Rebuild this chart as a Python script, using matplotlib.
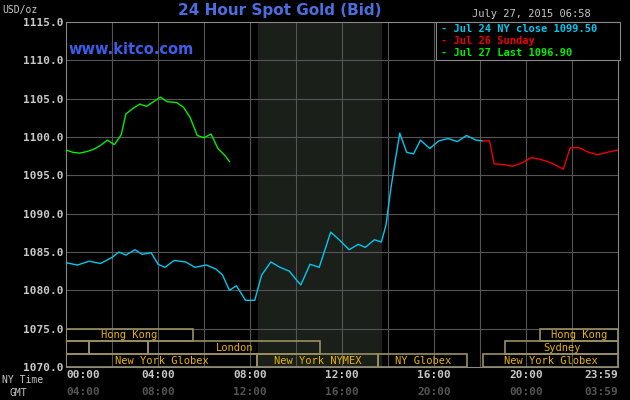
import numpy as np
import matplotlib.pyplot as plt
from matplotlib.patches import Rectangle

# Data (hours NY time, price USD/oz)
blue_t = [0.0, 0.5, 1.0, 1.5, 2.0, 2.3, 2.6, 3.0, 3.3, 3.7, 4.0, 4.3, 4.7, 5.2, 5.6, 6.1, 6.5, 6.8, 7.1,
          7.4, 7.8, 8.2, 8.5, 8.9, 9.3, 9.7, 10.0, 10.2, 10.6, 11.0, 11.5, 11.9, 12.3, 12.7, 13.0, 13.4,
          13.7, 13.9, 14.1, 14.25, 14.5, 14.8, 15.1, 15.4, 15.8, 16.2, 16.6, 17.0, 17.4, 17.8, 18.1]
blue_v = [1083.6, 1083.3, 1083.8, 1083.5, 1084.3, 1085.0, 1084.6, 1085.3, 1084.7, 1084.9, 1083.4, 1083.0,
          1083.9, 1083.7, 1083.0, 1083.3, 1082.8, 1082.0, 1080.0, 1080.6, 1078.7, 1078.7, 1082.0, 1083.7,
          1083.0, 1082.5, 1081.4, 1080.7, 1083.4, 1083.0, 1087.6, 1086.5, 1085.3, 1086.0, 1085.6, 1086.6,
          1086.3, 1088.5, 1093.0, 1096.0, 1100.5, 1098.0, 1097.8, 1099.6, 1098.5, 1099.5, 1099.8, 1099.4,
          1100.2, 1099.6, 1099.5]

green_t = [0.0, 0.3, 0.6, 0.9, 1.2, 1.5, 1.8, 2.1, 2.4, 2.6, 2.9, 3.2, 3.5, 3.8, 4.1, 4.4, 4.8, 5.1, 5.4,
           5.7, 6.0, 6.3, 6.6, 6.9, 7.1]
green_v = [1098.3, 1098.0, 1097.9, 1098.1, 1098.4, 1098.9, 1099.6, 1099.0, 1100.3, 1103.0, 1103.7, 1104.3,
           1104.0, 1104.6, 1105.2, 1104.6, 1104.5, 1103.9, 1102.5, 1100.2, 1099.9, 1100.4, 1098.5, 1097.6, 1096.8]

red_t = [18.1, 18.4, 18.6, 19.0, 19.4, 19.8, 20.2, 20.6, 21.0, 21.3, 21.6, 21.9, 22.3, 22.7, 23.1, 23.5, 23.98]
red_v = [1099.5, 1099.5, 1096.5, 1096.4, 1096.2, 1096.6, 1097.3, 1097.1, 1096.7, 1096.3, 1095.8, 1098.6,
         1098.6, 1098.0, 1097.7, 1098.0, 1098.3]

ny_ticks = ['00:00', '04:00', '08:00', '12:00', '16:00', '20:00', '23:59']
gmt_ticks = ['04:00', '08:00', '12:00', '16:00', '20:00', '00:00', '03:59']
tick_pos = [0, 4, 8, 12, 16, 20, 23.98]

# sessions: (row, start, end, label)
sessions = [(2, 0, 5.52, 'Hong Kong'), (2, 20.6, 23.98, 'Hong Kong'),
            (1, 0, 1.0, ''), (1, 1.0, 3.57, ''), (1, 3.57, 11.04, 'London'), (1, 19.09, 23.98, 'Sydney'),
            (0, 0, 8.3, 'New York Globex'), (0, 8.3, 13.57, 'New York NYMEX'),
            (0, 13.57, 17.43, 'NY Globex'), (0, 18.13, 23.98, 'New York Globex')]

mono = 'DejaVu Sans Mono'
gold = '#e8b400'
grid_c = '#555555'

fig = plt.figure(figsize=(6.3, 4.0), dpi=100, facecolor='black')
ax = fig.add_axes([66 / 630, 1 - 367 / 400, 552 / 630, 345 / 400], facecolor='black')
ax.set_xlim(0, 23.98)
ax.set_ylim(1070, 1115)

ax.axvspan(8.35, 13.7, color='#1a1f1a', zorder=0)
for h in range(2, 24, 2):
    ax.axvline(h, color=grid_c, lw=0.8, zorder=1)
for p in np.arange(1075, 1115, 5):
    ax.axhline(p, color=grid_c, lw=0.8, zorder=1)

row_h = 5.0 / 3
for row, s, e, lab in sessions:
    y0 = 1070 + row * row_h
    ax.add_patch(Rectangle((s, y0), e - s, row_h, fill=False, ec='#9a9060', lw=1.2, zorder=3))
    if lab:
        ax.text((s + e) / 2, y0 + row_h / 2, lab, color=gold, fontsize=7.5, family=mono,
                ha='center', va='center', zorder=4)

ax.plot(green_t, green_v, color='#00ee00', lw=1.0, zorder=5)
ax.plot(blue_t, blue_v, color='#00c8f0', lw=1.0, zorder=5)
ax.plot(red_t, red_v, color='#ee0000', lw=1.0, zorder=5)

ax.set_yticks(np.arange(1070, 1116, 5))
ax.set_yticklabels(['%.1f' % v for v in np.arange(1070, 1116, 5)], family=mono, fontweight='bold',
                   fontsize=8, color='#c8c8c8')
ax.set_xticks(tick_pos)
ax.set_xticklabels(ny_ticks, family=mono, fontweight='bold', fontsize=8, color='#c8c8c8')
ax.tick_params(length=0, pad=2)
labs = ax.get_xticklabels()
labs[0].set_ha('left')
labs[-1].set_ha('right')
for sp in ax.spines.values():
    sp.set_color('#888888')

for i, (x, lab) in enumerate(zip(tick_pos, gmt_ticks)):
    ha = 'left' if i == 0 else ('right' if i == len(tick_pos) - 1 else 'center')
    ax.text(x, -0.058, lab, transform=ax.get_xaxis_transform(), ha=ha, va='top',
            family=mono, fontweight='bold', fontsize=8, color='#555555')
fig.text(2 / 630, 1 - 380 / 400, 'NY Time', color='#c8c8c8', family=mono, fontsize=7, va='center')
fig.text(10 / 630, 1 - 393 / 400, 'GMT', color='#c8c8c8', family=mono, fontsize=7, va='center')
fig.text(2 / 630, 1 - 10 / 400, 'USD/oz', color='#c8c8c8', family=mono, fontsize=7, va='center')

fig.text(280 / 630, 1 - 11 / 400, '24 Hour Spot Gold (Bid)', color='#4a6ee0', fontsize=11,
         fontweight='bold', ha='center', va='center')
fig.text(472 / 630, 1 - 14 / 400, 'July 27, 2015 06:58', color='#c8c8c8', family=mono, fontsize=7.5,
         va='center')
ax.text(0.005, 0.92, 'www.kitco.com', transform=ax.transAxes, color='#3a5ee8', fontsize=10.5,
        fontweight='bold', va='center')

# legend box
lx0, ly0 = 436 / 630, 1 - 60 / 400
fig.patches.append(Rectangle((lx0, ly0), 184 / 630, 38 / 400, transform=fig.transFigure,
                             fc='black', ec='#888888', lw=0.8, zorder=10))
legend = [('Jul 24 NY close 1099.50', '#00c8f0'), ('Jul 26 Sunday', '#ee0000'),
          ('Jul 27 Last 1096.90', '#00ee00')]
for i, (lab, c) in enumerate(legend):
    fig.text(441 / 630, 1 - (29 + 12 * i) / 400, '- ' + lab, color=c, family=mono, fontweight='bold',
             fontsize=7.5, va='center', zorder=11)

fig.savefig('out.png', dpi=100, facecolor='black')
